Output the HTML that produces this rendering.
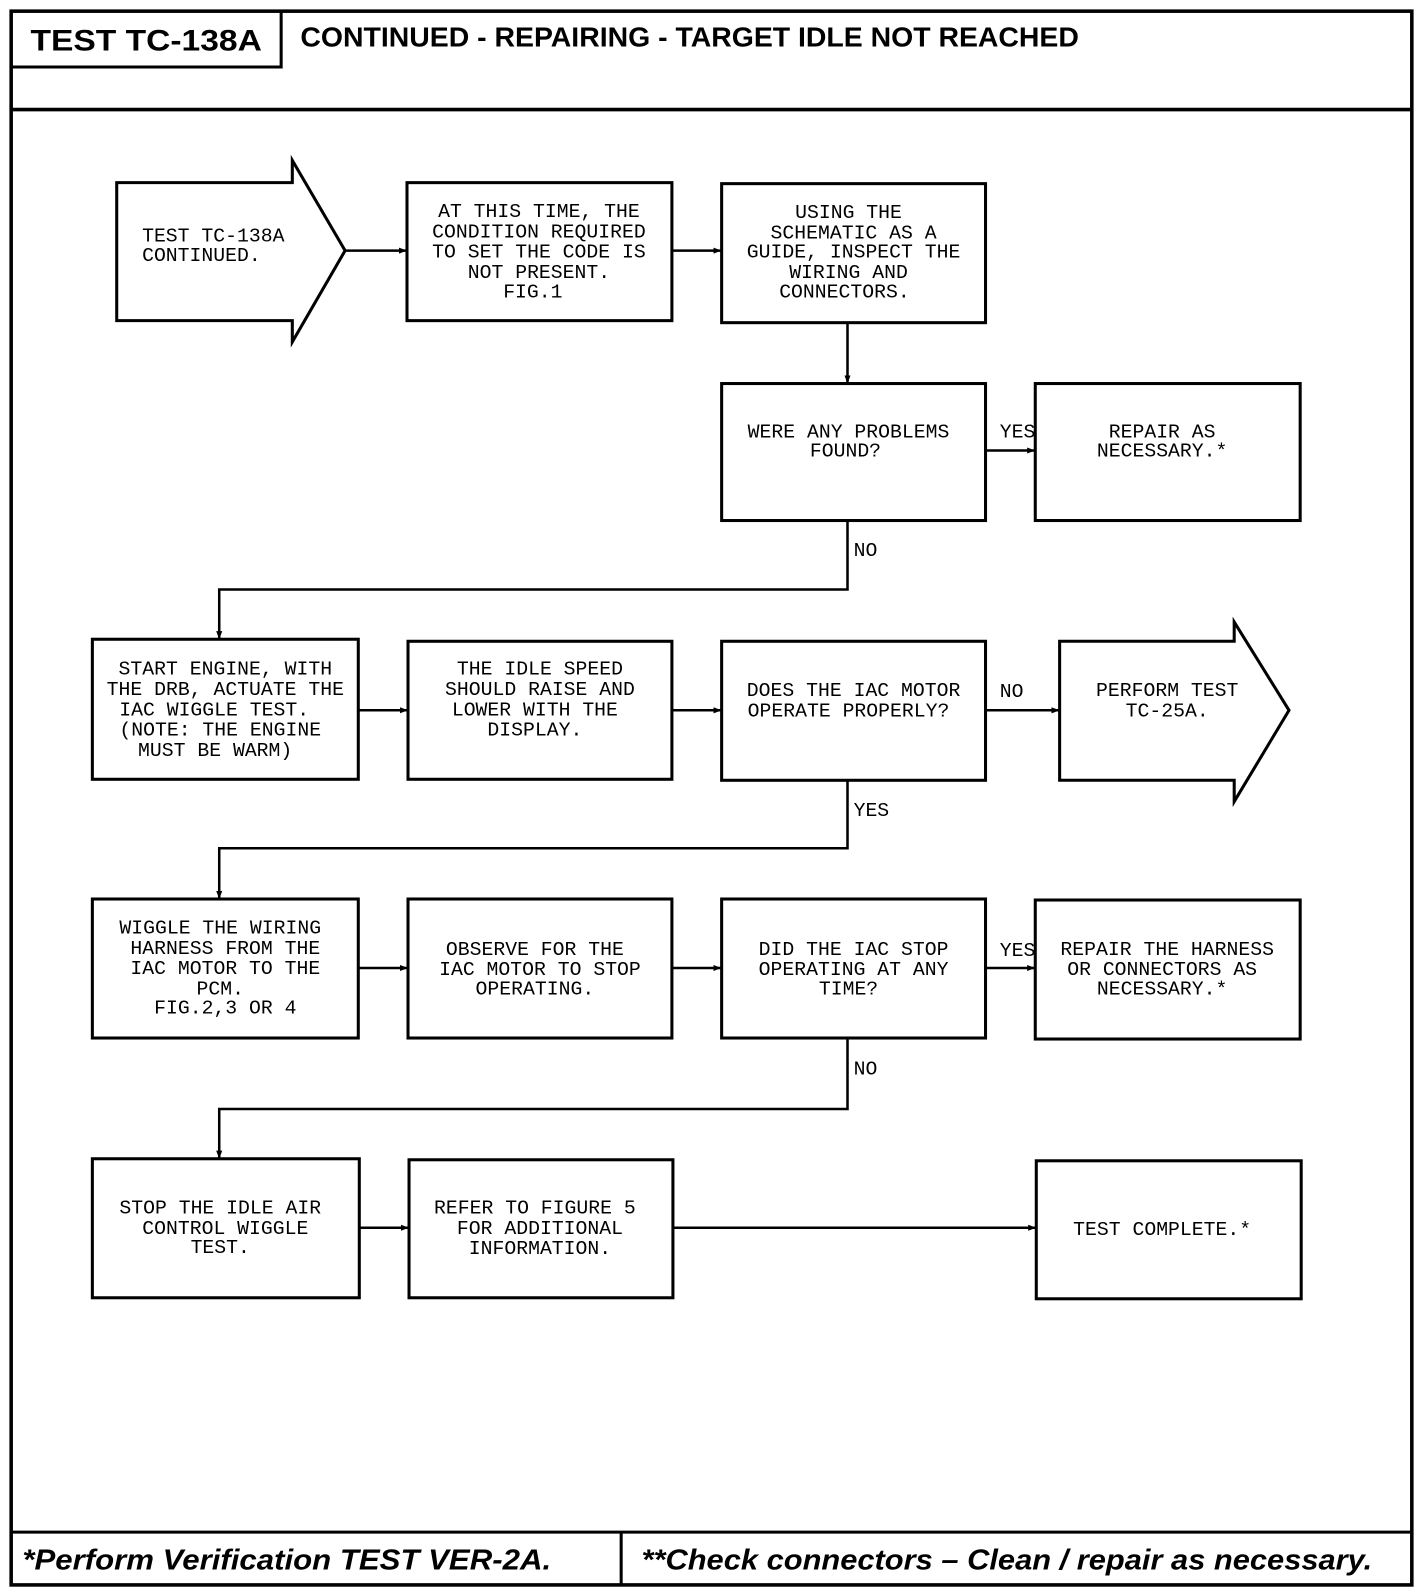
<!DOCTYPE html>
<html><head><meta charset="utf-8"><style>
html,body{margin:0;padding:0;background:#fff;}
svg{display:block;}
.t{font-family:"Liberation Mono",monospace;font-size:19.5px;fill:#000;}
.h{font-family:"Liberation Sans",sans-serif;font-weight:bold;fill:#000;}
</style></head><body>
<svg width="1424" height="1590" viewBox="0 0 1403 1567" preserveAspectRatio="none" xmlns="http://www.w3.org/2000/svg">
<defs><marker id="a" markerWidth="8" markerHeight="8" refX="7" refY="4" orient="auto" markerUnits="userSpaceOnUse"><path d="M0,1 L8,4 L0,7 z" fill="#000"/></marker></defs>
<g fill="none" stroke="#000" stroke-width="3">
<rect x="11" y="11" width="1380" height="1551" stroke-width="3.5"/>
<path d="M12 66 H277 V11"/>
<path d="M11 108 H1391" stroke-width="3.5"/>
<path d="M11 1510 H1391 M612 1510 V1562"/>
<path d="M115 180 H288 V158 L340 247 L288 337 V316 H115 Z"/>
<rect x="401" y="180" width="261" height="136"/>
<rect x="711" y="181" width="260" height="137"/>
<rect x="711" y="378" width="260" height="135"/>
<rect x="1020" y="378" width="261" height="135"/>
<rect x="91" y="630" width="262" height="138"/>
<rect x="402" y="632" width="260" height="136"/>
<rect x="711" y="632" width="260" height="137"/>
<path d="M1044 632 H1216 V613 L1270 700 L1216 790 V769 H1044 Z"/>
<rect x="91" y="886" width="262" height="137"/>
<rect x="402" y="886" width="260" height="137"/>
<rect x="711" y="886" width="260" height="137"/>
<rect x="1020" y="887" width="261" height="137"/>
<rect x="91" y="1142" width="263" height="137"/>
<rect x="403" y="1143" width="260" height="136"/>
<rect x="1021" y="1144" width="261" height="136"/>
</g>
<g fill="none" stroke="#000" stroke-width="2.5">
<path d="M340 247 H400" marker-end="url(#a)"/>
<path d="M662 247 H710" marker-end="url(#a)"/>
<path d="M835 318 V377" marker-end="url(#a)"/>
<path d="M971 444 H1019" marker-end="url(#a)"/>
<path d="M835 513 V581 H216 V629" marker-end="url(#a)"/>
<path d="M353 700 H401" marker-end="url(#a)"/>
<path d="M662 700 H710" marker-end="url(#a)"/>
<path d="M971 700 H1043" marker-end="url(#a)"/>
<path d="M835 769 V836 H216 V885" marker-end="url(#a)"/>
<path d="M353 954 H401" marker-end="url(#a)"/>
<path d="M662 954 H710" marker-end="url(#a)"/>
<path d="M971 954 H1019" marker-end="url(#a)"/>
<path d="M835 1023 V1093 H216 V1141" marker-end="url(#a)"/>
<path d="M354 1210 H402" marker-end="url(#a)"/>
<path d="M663 1210 H1020" marker-end="url(#a)"/>
</g>
<text class="h" x="30" y="50" font-size="29" textLength="228" lengthAdjust="spacingAndGlyphs">TEST TC-138A</text>
<text class="h" x="296" y="46" font-size="27" textLength="767" lengthAdjust="spacingAndGlyphs">CONTINUED -  REPAIRING - TARGET IDLE NOT REACHED</text>
<text class="h" x="22" y="1547" font-size="28" font-style="italic" textLength="521" lengthAdjust="spacingAndGlyphs">*Perform Verification TEST VER-2A.</text>
<text class="h" x="632" y="1547" font-size="28" font-style="italic" textLength="720" lengthAdjust="spacingAndGlyphs">**Check connectors – Clean / repair as necessary.</text>
<g class="t">
<text x="140" y="238">TEST TC-138A</text>
<text x="140" y="257">CONTINUED.</text>
<g text-anchor="middle">
<text x="531" y="214">AT THIS TIME, THE</text>
<text x="531" y="234">CONDITION REQUIRED</text>
<text x="531" y="254">TO SET THE CODE IS</text>
<text x="531" y="274">NOT PRESENT.</text>
<text x="525" y="293">FIG.1</text>
<text x="836" y="215">USING THE</text>
<text x="841" y="235">SCHEMATIC AS A</text>
<text x="841" y="254">GUIDE, INSPECT THE</text>
<text x="836" y="274">WIRING AND</text>
<text x="832" y="293">CONNECTORS.</text>
<text x="836" y="431">WERE ANY PROBLEMS</text>
<text x="833" y="450">FOUND?</text>
<text x="1145" y="431">REPAIR AS</text>
<text x="1145" y="450">NECESSARY.*</text>
<text x="222" y="665">START ENGINE, WITH</text>
<text x="222" y="685">THE DRB, ACTUATE THE</text>
<text x="211" y="705">IAC WIGGLE TEST.</text>
<text x="217" y="725">(NOTE: THE ENGINE</text>
<text x="212" y="745">MUST BE WARM)</text>
<text x="532" y="665">THE IDLE SPEED</text>
<text x="532" y="685">SHOULD RAISE AND</text>
<text x="527" y="705">LOWER WITH THE</text>
<text x="527" y="725">DISPLAY.</text>
<text x="841" y="686">DOES THE IAC MOTOR</text>
<text x="836" y="706">OPERATE PROPERLY?</text>
<text x="1150" y="686">PERFORM TEST</text>
<text x="1150" y="706">TC-25A.</text>
<text x="217" y="920">WIGGLE THE WIRING</text>
<text x="222" y="940">HARNESS FROM THE</text>
<text x="222" y="960">IAC MOTOR TO THE</text>
<text x="217" y="980">PCM.</text>
<text x="222" y="999">FIG.2,3 OR 4</text>
<text x="527" y="941">OBSERVE FOR THE</text>
<text x="532" y="961">IAC MOTOR TO STOP</text>
<text x="527" y="980">OPERATING.</text>
<text x="841" y="941">DID THE IAC STOP</text>
<text x="841" y="961">OPERATING AT ANY</text>
<text x="836" y="980">TIME?</text>
<text x="1150" y="941">REPAIR THE HARNESS</text>
<text x="1145" y="961">OR CONNECTORS AS</text>
<text x="1145" y="980">NECESSARY.*</text>
<text x="217" y="1196">STOP THE IDLE AIR</text>
<text x="222" y="1216">CONTROL WIGGLE</text>
<text x="217" y="1235">TEST.</text>
<text x="527" y="1196">REFER TO FIGURE 5</text>
<text x="532" y="1216">FOR ADDITIONAL</text>
<text x="532" y="1236">INFORMATION.</text>
<text x="1145" y="1217">TEST COMPLETE.*</text>
</g>
<text x="985" y="431">YES</text>
<text x="841" y="548">NO</text>
<text x="985" y="687">NO</text>
<text x="841" y="804">YES</text>
<text x="985" y="942">YES</text>
<text x="841" y="1059">NO</text>
</g>
</svg>
</body></html>
